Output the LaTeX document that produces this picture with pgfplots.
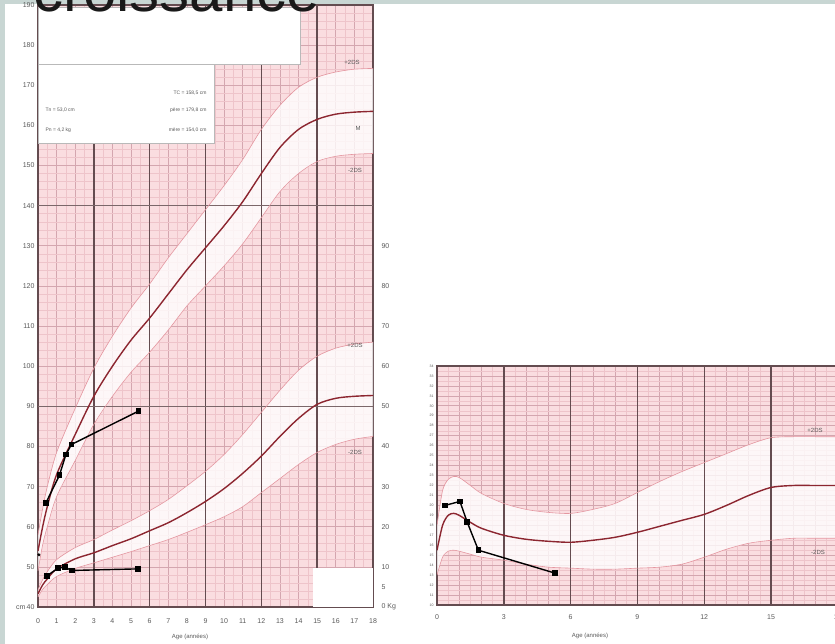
\documentclass[border=0pt]{standalone}
\usepackage{pgfplots}
\pgfplotsset{compat=1.18}
\usepackage{pgfplotstable}
\usepackage{fontspec}
\setmainfont{Liberation Sans}

\definecolor{tealbg}{RGB}{200,214,211}
\definecolor{pinkbg}{RGB}{250,221,224}
\definecolor{gridfine}{RGB}{238,196,202}
\definecolor{gridmed}{RGB}{212,166,175}
\definecolor{thickl}{RGB}{100,76,80}
\definecolor{meanc}{RGB}{140,38,48}
\definecolor{sdc}{RGB}{228,150,160}
\definecolor{labc}{RGB}{90,90,90}

% height (cm) reference curves
\pgfplotstableread{
age m p2 m2
0 54 58 49
0.25 60 64.5 55.5
0.5 65 70 60
1 73 78.5 67.5
2 83 89.5 76.5
3 92.5 99.5 85.5
4 100 107.5 92.5
5 106.5 114.5 98.5
6 112 120.5 103.5
7 118 127 109
8 124 133 115
9 129.5 139 120
10 135 145 125
11 141 151.5 130.5
12 148 159 137
13 154.5 165 143.5
14 159 169.5 148
15 161.5 172 151
16 162.8 173.3 152.3
17 163.3 174 152.8
18 163.5 174.2 153
}\htab

% weight (kg) reference curves
\pgfplotstableread{
age m p2 m2
0 3.3 4.3 2.5
0.25 5.5 6.8 4.4
0.5 7 8.8 5.6
1 9.5 11.8 7.6
2 12 14.8 9.6
3 13.5 16.8 11
4 15.3 19.2 12.4
5 17 21.5 13.8
6 19 24 15.3
7 21 26.8 16.8
8 23.5 30.2 18.6
9 26.3 33.8 20.5
10 29.5 38 22.5
11 33.3 43 25
12 37.6 48.5 28.5
13 42.5 54 32
14 47 59 35.5
15 50.5 62.5 38.5
16 52 64.5 40.5
17 52.5 65.5 41.8
18 52.7 66 42.5
}\wtab

% BMI reference curves
\pgfplotstableread{
age m p2 m2
0 15.5 18 13
0.25 18 21.5 14.8
0.5 19 22.6 15.4
0.75 19.2 22.9 15.5
1 19 22.8 15.4
1.5 18.3 22 15.1
2 17.7 21.2 14.8
3 17 20.2 14.5
4 16.6 19.6 14.1
5 16.4 19.3 13.8
6 16.3 19.2 13.7
7 16.5 19.6 13.6
8 16.8 20.2 13.6
9 17.3 21.3 13.7
10 17.9 22.4 13.8
11 18.5 23.4 14.1
12 19.1 24.3 14.8
13 20 25.2 15.6
14 21 26.1 16.2
15 21.8 26.8 16.5
16 22 26.9 16.7
17 22 26.9 16.7
18 22 26.9 16.7
}\btab

% band outlines (+2DS forward, -2DS back)
\pgfplotstableread{
age y
0 58
0.25 64.5
0.5 70
1 78.5
2 89.5
3 99.5
4 107.5
5 114.5
6 120.5
7 127
8 133
9 139
10 145
11 151.5
12 159
13 165
14 169.5
15 172
16 173.3
17 174
18 174.2
18 153
17 152.8
16 152.3
15 151
14 148
13 143.5
12 137
11 130.5
10 125
9 120
8 115
7 109
6 103.5
5 98.5
4 92.5
3 85.5
2 76.5
1 67.5
0.5 60
0.25 55.5
0 49
}\hband
\pgfplotstableread{
age y
0 4.3
0.25 6.8
0.5 8.8
1 11.8
2 14.8
3 16.8
4 19.2
5 21.5
6 24
7 26.8
8 30.2
9 33.8
10 38
11 43
12 48.5
13 54
14 59
15 62.5
16 64.5
17 65.5
18 66
18 42.5
17 41.8
16 40.5
15 38.5
14 35.5
13 32
12 28.5
11 25
10 22.5
9 20.5
8 18.6
7 16.8
6 15.3
5 13.8
4 12.4
3 11
2 9.6
1 7.6
0.5 5.6
0.25 4.4
0 2.5
}\wband
\pgfplotstableread{
age y
0 18
0.25 21.5
0.5 22.6
0.75 22.9
1 22.8
1.5 22
2 21.2
3 20.2
4 19.6
5 19.3
6 19.2
7 19.6
8 20.2
9 21.3
10 22.4
11 23.4
12 24.3
13 25.2
14 26.1
15 26.8
16 26.9
17 26.9
18 26.9
18 16.7
17 16.7
16 16.7
15 16.5
14 16.2
13 15.6
12 14.8
11 14.1
10 13.8
9 13.7
8 13.6
7 13.6
6 13.7
5 13.8
4 14.1
3 14.5
2 14.8
1.5 15.1
1 15.4
0.75 15.5
0.5 15.4
0.25 14.8
0 13
}\bband

% patient
\pgfplotstableread{
age h
0.43 66
1.15 72.8
1.5 78
1.8 80.5
5.4 88.8
}\ph
\pgfplotstableread{
age w
0.47 7.75
1.09 9.7
1.45 9.9
1.81 9.1
5.39 9.5
}\pw
\pgfplotstableread{
age b
0.36 20.0
1.03 20.4
1.36 18.3
1.86 15.5
5.3 13.2
}\pb

\pgfplotsset{
  chart/.style={
    scale only axis, anchor=south west,
    axis background/.style={fill=pinkbg},
    grid=both,
    minor grid style={draw=gridfine, line width=0.4pt},
    major grid style={draw=gridmed, line width=0.7pt},
    axis line style={draw=thickl, line width=1.1pt},
    major tick length=0pt, minor tick length=0pt,
    ticklabel style={font=\fontsize{7}{8}\selectfont, text=labc},
    /pgf/number format/assume math mode=true,
  },
  refmean/.style={draw=meanc, line width=1.4pt, smooth, no markers},
  refsd/.style={draw=sdc, line width=0.6pt, smooth, no markers},
  band/.style={fill=white, fill opacity=0.78, draw=none, no markers},
  patient/.style={draw=black, line width=1.4pt, mark=square*, mark size=2.2pt, mark options={fill=black}},
}

\begin{document}
\begin{tikzpicture}
\fill[white] (0pt,0pt) rectangle (835pt,644pt);
\fill[tealbg] (0pt,0pt) rectangle (5pt,644pt);
\fill[tealbg] (0pt,640pt) rectangle (835pt,644pt);

% ---------------- height / weight chart ----------------
\begin{axis}[chart, at={(38pt,37pt)}, width=335pt, height=602pt,
  xmin=0, xmax=18, ymin=40, ymax=190,
  xtick={0,1,...,18}, minor x tick num=1,
  ytick={40,50,...,190}, minor y tick num=4,
  yticklabels={cm\,40,50,60,70,80,90,100,110,120,130,140,150,160,170,180,190},
  xticklabel style={yshift=-8pt},
  ]
  \addplot[band] table[x=age,y=y]{\hband};
  \addplot[band] table[x=age,y expr=\thisrow{y}+40]{\wband};
  % thick grid lines
  \draw[thickl, line width=1.4pt] (axis cs:3,40) -- (axis cs:3,190);
  \draw[thickl, line width=1.4pt] (axis cs:6,40) -- (axis cs:6,190);
  \draw[thickl, line width=1.4pt] (axis cs:9,40) -- (axis cs:9,190);
  \draw[thickl, line width=1.4pt] (axis cs:12,40) -- (axis cs:12,190);
  \draw[thickl, line width=1.4pt] (axis cs:15,40) -- (axis cs:15,190);
  \draw[thickl!85, line width=1.1pt] (axis cs:0,90) -- (axis cs:18,90);
  \draw[thickl!85, line width=1.1pt] (axis cs:0,140) -- (axis cs:18,140);
  % white boxes
  \filldraw[fill=white, draw=gray!55, line width=0.7pt] (axis cs:0,175.3) rectangle (axis cs:14.08,189.3);
  \filldraw[fill=white, draw=gray!55, line width=0.7pt] (axis cs:0,155.6) rectangle (axis cs:9.46,175.3);
  \fill[white] (axis cs:14.8,40) rectangle (axis cs:18,49.8);
  % reference curves
  \addplot[refsd] table[x=age,y=p2]{\htab};
  \addplot[refsd] table[x=age,y=m2]{\htab};
  \addplot[refsd] table[x=age,y expr=\thisrow{p2}+40]{\wtab};
  \addplot[refsd] table[x=age,y expr=\thisrow{m2}+40]{\wtab};
  \addplot[refmean] table[x=age,y=m]{\htab};
  \addplot[refmean] table[x=age,y expr=\thisrow{m}+40]{\wtab};
  % patient
  \addplot[patient] table[x=age,y=h]{\ph};
  \addplot[patient] table[x=age,y expr=\thisrow{w}+40]{\pw};
  \addplot[only marks, mark=*, mark size=1.3pt, black] coordinates {(0.05,53)};
\end{axis}

% weight scale (right)
\begin{axis}[scale only axis, anchor=south west, at={(38pt,37pt)}, width=335pt, height=602pt,
  xmin=0, xmax=18, ymin=0, ymax=150,
  hide x axis, axis y line*=right,
  y axis line style={draw=none}, major tick length=0pt,
  ytick={0,5,10,20,30,40,50,60,70,80,90},
  yticklabels={0 Kg,5,10,20,30,40,50,60,70,80,90},
  ticklabel style={font=\fontsize{7}{8}\selectfont, text=labc},
  yticklabel style={xshift=5pt},
  /pgf/number format/assume math mode=true,
  ]
  \addplot[draw=none, no markers] coordinates {(1,1) (2,2)};
\end{axis}

% ---------------- BMI chart ----------------
\begin{axis}[chart, at={(437pt,39pt)}, width=400.8pt, height=239pt,
  xmin=0, xmax=18, ymin=10, ymax=34,
  xtick={0,1,...,18}, minor x tick num=1,
  xticklabels={0,,,3,,,6,,,9,,,12,,,15,,,18},
  ytick={10,11,...,34}, minor y tick num=1,
  yticklabel style={font=\fontsize{3.5}{4}\selectfont},
  xticklabel style={yshift=-6pt},
  ]
  \addplot[band] table[x=age,y=y]{\bband};
  \draw[thickl, line width=1.4pt] (axis cs:3,10) -- (axis cs:3,34);
  \draw[thickl, line width=1.4pt] (axis cs:6,10) -- (axis cs:6,34);
  \draw[thickl, line width=1.4pt] (axis cs:9,10) -- (axis cs:9,34);
  \draw[thickl, line width=1.4pt] (axis cs:12,10) -- (axis cs:12,34);
  \draw[thickl, line width=1.4pt] (axis cs:15,10) -- (axis cs:15,34);
  \addplot[refsd] table[x=age,y=p2]{\btab};
  \addplot[refsd] table[x=age,y=m2]{\btab};
  \addplot[refmean] table[x=age,y=m]{\btab};
  \addplot[patient] table[x=age,y=b]{\pb};
\end{axis}

% ---------------- text ----------------
\node[anchor=base west, font=\fontsize{60}{60}\selectfont, text=black!90, inner sep=0pt] at (33pt,632pt) {croissance};

\begin{scope}[font=\fontsize{5}{6}\selectfont, text=labc]
  \node[anchor=east] at (210pt,551pt) {TC = 158,5 cm};
  \node[anchor=west] at (42pt,534pt) {Tn = 53,0 cm};
  \node[anchor=east] at (210pt,534pt) {père = 179,8 cm};
  \node[anchor=west] at (42pt,514pt) {Pn = 4,2 kg};
  \node[anchor=east] at (210pt,514pt) {mère = 154,0 cm};
\end{scope}

\begin{scope}[font=\fontsize{6}{7}\selectfont, text=labc]
  \node at (352pt,582pt) {+2DS};
  \node at (358pt,516pt) {M};
  \node at (355pt,474pt) {-2DS};
  \node at (355pt,299pt) {+2DS};
  \node at (355pt,192pt) {-2DS};
  \node at (815pt,214pt) {+2DS};
  \node at (818pt,92pt) {-2DS};
  \node at (190pt,7pt) {Age (années)};
  \node at (590pt,8pt) {Age (années)};
\end{scope}
\pgfresetboundingbox
\path[use as bounding box] (0pt,0pt) rectangle (835pt,644pt);
\end{tikzpicture}
\end{document}
